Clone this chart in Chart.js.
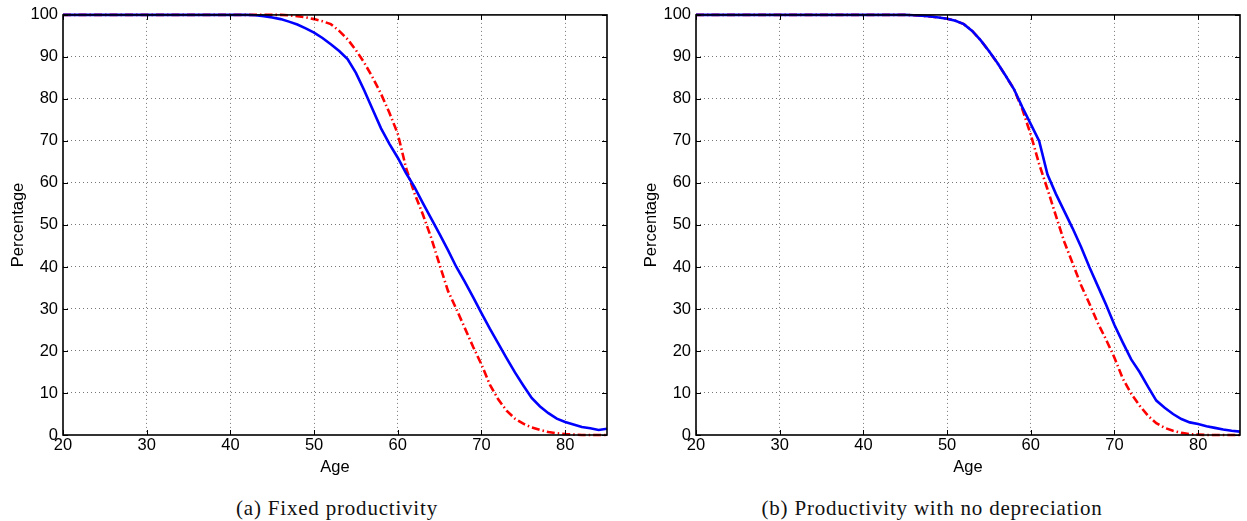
<!DOCTYPE html>
<html>
<head>
<meta charset="utf-8">
<script src="https://cdn.jsdelivr.net/npm/chart.js@4/dist/chart.umd.min.js"></script>
<style>
  html, body { margin: 0; padding: 0; background: #fff; overflow: hidden; }
  .box { position: absolute; top: 0; height: 480px; }
  .cap { position: absolute; top: 496px; font: 21px "Liberation Serif", serif; letter-spacing: 0.8px; color: #111; text-align: center; }
</style>
</head>
<body>
<div class="box" style="left:0;width:620px"><canvas id="chartA"></canvas></div>
<div class="box" style="left:633px;width:614px"><canvas id="chartB"></canvas></div>
<div class="cap" style="left:37px;width:600px">(a) Fixed productivity</div>
<div class="cap" style="left:632px;width:600px">(b) Productivity with no depreciation</div>
<script>
// 年齢 20〜85
const ages = [];
for (let a = 20; a <= 85; a++) ages.push(a);

// (a) 固定生産性
const fixedBlue = [
  100, 100, 100, 100, 100, 100, 100, 100, 100, 100,   // 20-29
  100, 100, 100, 100, 100, 100, 100, 100, 100, 100,   // 30-39
  100, 100, 100, 99.9, 99.7, 99.4, 99.0, 98.4, 97.7, 96.8, // 40-49
  95.8, 94.5, 93.0, 91.4, 89.5, 86.2, 82.0, 77.5, 73.0, 69.3, // 50-59
  66.0, 62.3, 59.0, 55.2, 51.5, 47.8, 44.0, 40.0, 36.5, 32.8, // 60-69
  29.0, 25.3, 21.8, 18.3, 14.9, 11.8, 8.8, 6.8, 5.2, 3.9,     // 70-79
  3.1, 2.5, 1.9, 1.6, 1.2, 1.5                                // 80-85
];
const fixedRed = [
  100, 100, 100, 100, 100, 100, 100, 100, 100, 100,
  100, 100, 100, 100, 100, 100, 100, 100, 100, 100,
  100, 100, 100, 100, 100, 100, 100, 99.9, 99.7, 99.4,
  99.0, 98.5, 97.8, 96.2, 94.2, 91.6, 88.6, 85.1, 81.2, 76.7,
  71.7, 63.5, 57.5, 52.5, 46.9, 40.5, 34.3, 30.0, 25.5, 21.0,
  16.8, 12.0, 8.5, 5.8, 3.9, 2.7, 1.8, 1.2, 0.7, 0.4,
  0.2, 0.1, 0, 0, 0, 0
];

// (b) 減耗なしの生産性
const noDepBlue = [
  100, 100, 100, 100, 100, 100, 100, 100, 100, 100,
  100, 100, 100, 100, 100, 100, 100, 100, 100, 100,
  100, 100, 100, 100, 100, 100, 99.9, 99.8, 99.6, 99.4,
  99.1, 98.6, 97.8, 96.2, 94.0, 91.4, 88.6, 85.5, 82.3, 78.0,
  74.0, 70.0, 62.0, 57.4, 53.3, 49.2, 44.8, 40.0, 35.5, 31.0,
  26.2, 22.0, 18.0, 15.0, 11.5, 8.2, 6.5, 5.0, 3.8, 3.0,
  2.6, 2.1, 1.7, 1.3, 1.0, 0.8
];
const noDepRed = [
  100, 100, 100, 100, 100, 100, 100, 100, 100, 100,
  100, 100, 100, 100, 100, 100, 100, 100, 100, 100,
  100, 100, 100, 100, 100, 100, 99.9, 99.8, 99.6, 99.4,
  99.1, 98.6, 97.8, 96.2, 94.0, 91.4, 88.6, 85.5, 82.3, 77.5,
  71.5, 64.5, 58.5, 52.2, 46.0, 40.9, 35.7, 31.3, 26.7, 22.7,
  18.4, 13.4, 9.8, 7.0, 4.6, 2.8, 1.7, 1.0, 0.5, 0.2,
  0.1, 0, 0, 0, 0, 0
];

const xTicks = [20, 30, 40, 50, 60, 70, 80];
const yTicks = [0, 10, 20, 30, 40, 50, 60, 70, 80, 90, 100];

const toPts = (ys) => ys.map((y, i) => ({ x: ages[i], y: y }));

// 枠線と内向きの目盛りを描くプラグイン
const frame = {
  id: 'frame',
  afterDatasetsDraw(chart) {
    const { ctx, chartArea: a, scales } = chart;
    ctx.save();
    ctx.strokeStyle = '#000';
    ctx.lineWidth = 1;
    ctx.beginPath();
    scales.x.ticks.forEach(t => {
      const px = Math.round(scales.x.getPixelForValue(t.value)) + 0.5;
      ctx.moveTo(px, a.bottom); ctx.lineTo(px, a.bottom - 5);
      ctx.moveTo(px, a.top); ctx.lineTo(px, a.top + 5);
    });
    scales.y.ticks.forEach(t => {
      const py = Math.round(scales.y.getPixelForValue(t.value)) + 0.5;
      ctx.moveTo(a.left, py); ctx.lineTo(a.left + 5, py);
      ctx.moveTo(a.right, py); ctx.lineTo(a.right - 5, py);
    });
    ctx.stroke();
    ctx.lineWidth = 1.6;
    ctx.strokeRect(a.left, a.top, a.right - a.left, a.bottom - a.top);
    ctx.restore();
  }
};

const makeChart = function (id, blue, red, rightPad) {
  const font = { family: '"Liberation Sans", Arial, sans-serif', size: 16.5 };
  return new Chart(document.getElementById(id), {
    type: 'line',
    data: {
      datasets: [{
        data: toPts(blue),
        borderColor: '#0000ff',
        borderWidth: 2.6,
        pointRadius: 0,
        tension: 0,
        clip: false,
      }, {
        data: toPts(red),
        borderColor: '#ff0000',
        borderWidth: 2.6,
        borderDash: [8, 3, 1.5, 3],
        pointRadius: 0,
        tension: 0,
        clip: false,
      }],
    },
    options: {
      responsive: true,
      maintainAspectRatio: false,
      animation: false,
      events: [],
      layout: { padding: { left: 0, top: 14, right: rightPad, bottom: 0 } },
      plugins: { legend: { display: false }, tooltip: { enabled: false } },
      scales: {
        x: {
          type: 'linear',
          min: 20,
          max: 85,
          afterBuildTicks: (s) => { s.ticks = xTicks.map(v => ({ value: v })); },
          afterFit: (s) => { s.height = 45; },
          ticks: { color: '#000', font: font, padding: 1, maxRotation: 0, autoSkip: false },
          grid: {
            color: (c) => (c.tick && (c.tick.value === 20) ? 'rgba(0,0,0,0)' : '#777'),
            lineWidth: 1,
            drawTicks: false,
          },
          border: { display: false, dash: [1, 3] },
          title: { display: true, text: 'Age', color: '#000', font: font, padding: { top: 0, bottom: 3 } },
        },
        y: {
          min: 0,
          max: 100,
          afterBuildTicks: (s) => { s.ticks = yTicks.map(v => ({ value: v })); },
          afterFit: (s) => { s.width = 63; },
          ticks: { color: '#000', font: font, padding: 5 },
          grid: {
            color: (c) => (c.tick && (c.tick.value === 0 || c.tick.value === 100) ? 'rgba(0,0,0,0)' : '#777'),
            lineWidth: 1,
            drawTicks: false,
          },
          border: { display: false, dash: [1, 3] },
          title: { display: true, text: 'Percentage', color: '#000', font: font, padding: { top: 9, bottom: 0 } },
        },
      },
    },
    plugins: [frame],
  });
};

document.addEventListener('DOMContentLoaded', () => {
  makeChart('chartA', fixedBlue, fixedRed, 13);
  makeChart('chartB', noDepBlue, noDepRed, 7);
});
</script>
</body>
</html>
